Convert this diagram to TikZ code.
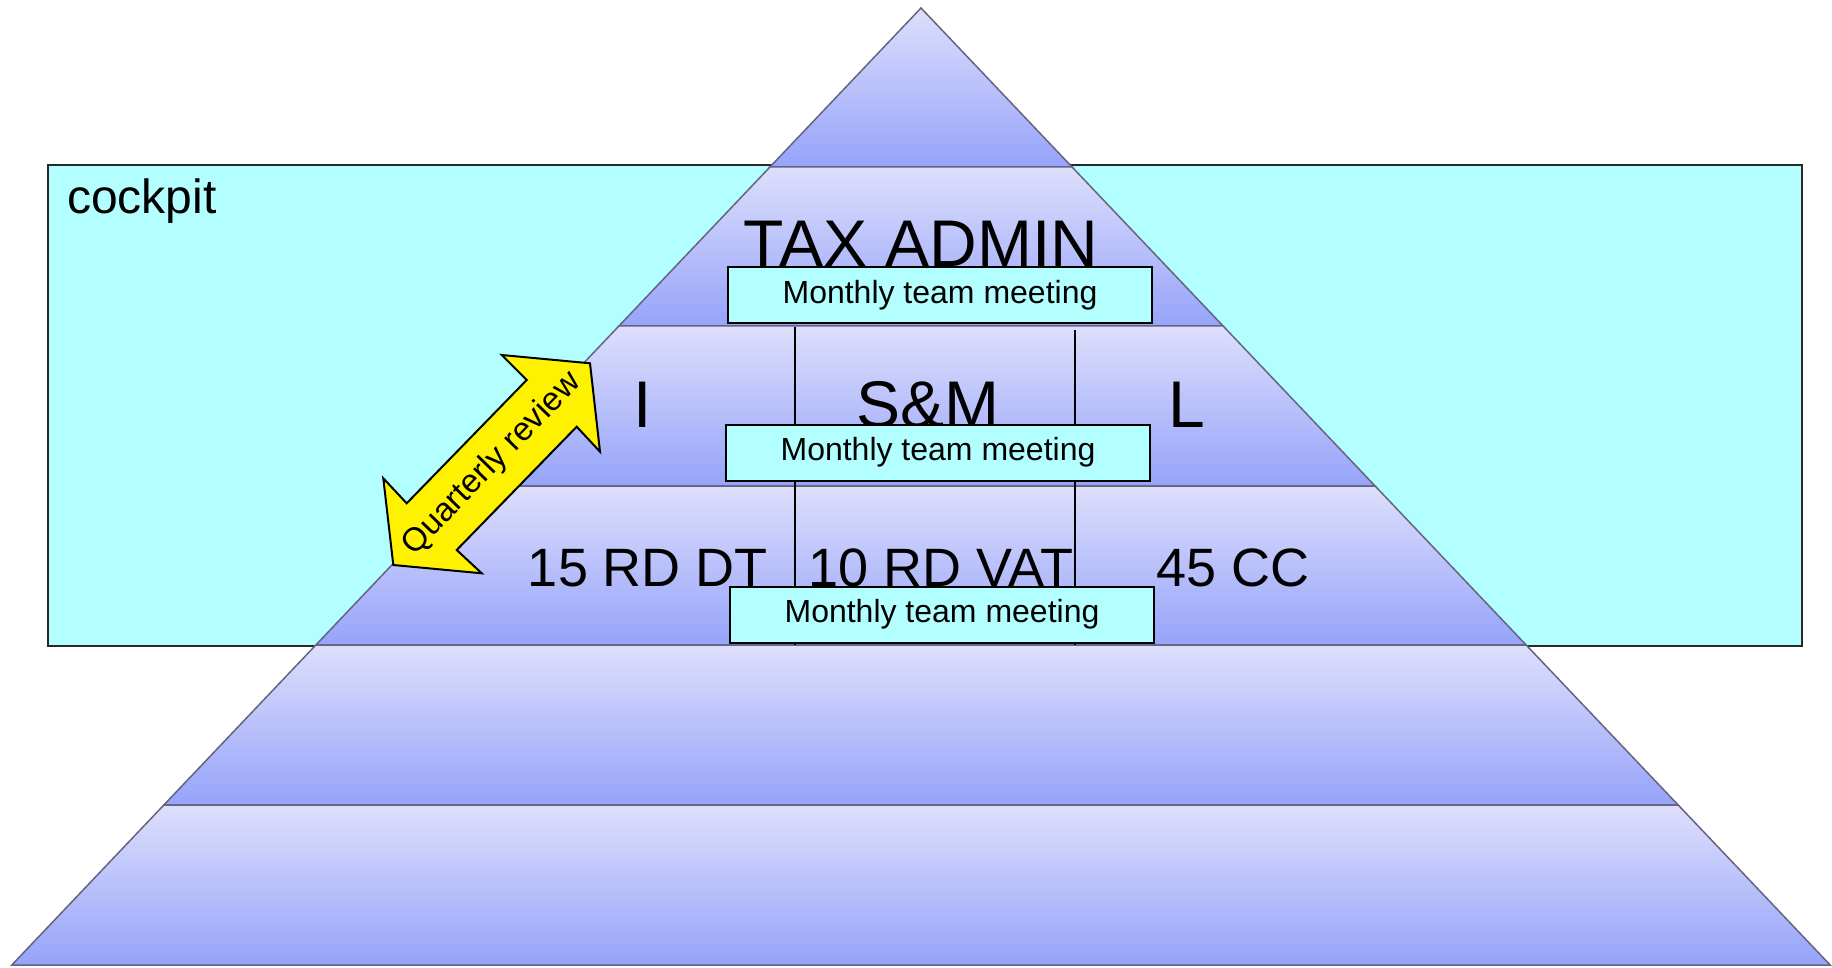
\documentclass[tikz,border=0pt]{standalone}
\usepackage{fontspec}
\setmainfont{Liberation Sans}
\definecolor{bandtop}{RGB}{221,223,251}
\definecolor{bandbot}{RGB}{150,163,250}
\definecolor{cockpitfill}{RGB}{179,255,255}
\definecolor{bandline}{RGB}{100,100,130}
\definecolor{frameline}{RGB}{40,40,40}
\begin{document}
\begin{tikzpicture}[x=1pt,y=-1pt,
  band/.style={draw=bandline, line width=1.5pt, top color=bandtop, bottom color=bandbot},
  meet/.style={draw=black, line width=2pt, fill=cockpitfill, minimum width=424pt, minimum height=56pt, inner sep=0pt, font=\fontsize{32}{38}\selectfont},
  big/.style={font=\fontsize{66}{72}\selectfont, inner sep=0pt, anchor=base},
  mid/.style={font=\fontsize{54}{60}\selectfont, inner sep=0pt, anchor=base},
  divider/.style={draw=black, line width=1.5pt},
  arrowshape/.style={draw=black, line width=2pt, fill=yellow, line join=miter}
]
\useasboundingbox (0,0) rectangle (1832,968);
% cockpit frame
\draw[draw=frameline, line width=2pt, fill=cockpitfill] (48,165) rectangle (1802,646);
\node[font=\fontsize{48}{56}\selectfont, anchor=base west, inner sep=0pt] (cockpitlabel) at (67,214) {cockpit};
% pyramid bands
\foreach \ya/\yb in {8/167,167/326,326/486,486/645,645/805,805/965} {
  \path[band] ({921-0.95*(\ya-8)},\ya) -- ({921+0.95*(\ya-8)},\ya) -- ({921+0.95*(\yb-8)},\yb) -- ({921-0.95*(\yb-8)},\yb) -- cycle;
}
% dividers
\coordinate (d1a) at (795,327);
\coordinate (d1b) at (795,645);
\coordinate (d2a) at (1075,330);
\coordinate (d2b) at (1075,645);
\draw[divider] (d1a) -- (d1b);
\draw[divider] (d2a) -- (d2b);
% texts
\node[big] (tax) at (921,267) {TAX ADMIN};
\node[big] (i) at (643,427) {I};
\node[big] (sm) at (928,427) {S\&M};
\node[big] (l) at (1187,427) {L};
\node[mid] (rddt) at (648,586) {15 RD DT};
\node[mid] (rdvat) at (941,586) {10 RD VAT};
\node[mid] (cc) at (1233,586) {45 CC};
% meeting boxes
\node[meet] (m1) at (940,295) {Monthly team meeting};
\node[meet] (m2) at (938,452.5) {Monthly team meeting};
\node[meet] (m3) at (942,614.7) {Monthly team meeting};
% quarterly review double arrow
\path[arrowshape] (590,363.3) -- (600,451.7) -- (576.7,426.7) -- (456.7,550) -- (481.7,573.3) -- (393.3,565) -- (383.3,478.3) -- (406.7,503.3) -- (526.7,380) -- (501.7,355) -- cycle;
\node[rotate=45.8, font=\fontsize{33}{38}\selectfont, inner sep=0pt] (qr) at (492,464) {Quarterly review};
\end{tikzpicture}
\end{document}
